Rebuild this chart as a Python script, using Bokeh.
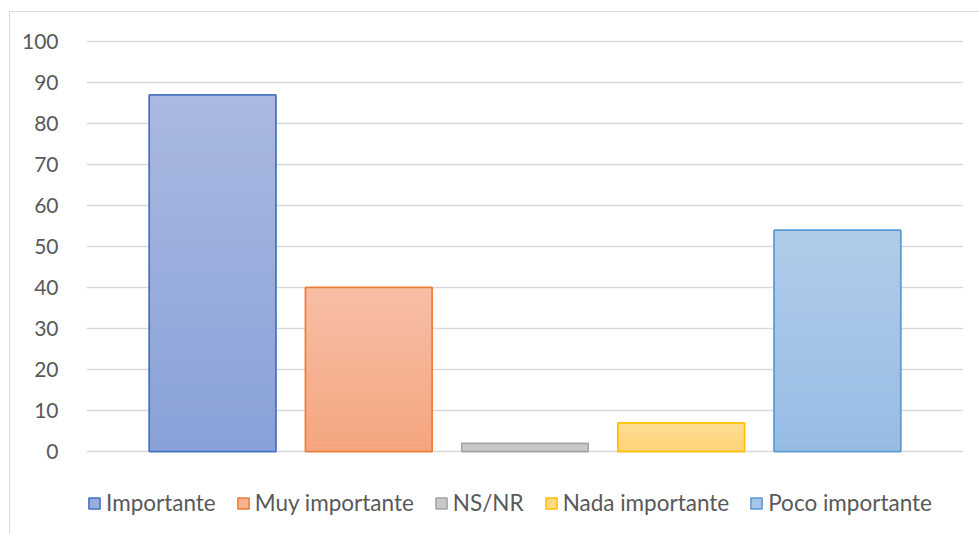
import numpy as np
from bokeh.plotting import figure
from bokeh.models import Range1d, Legend, LegendItem, FixedTicker
from bokeh.embed import file_html
from bokeh.resources import INLINE

categories = ["Importante", "Muy importante", "NS/NR", "Nada importante", "Poco importante"]
values = [87, 40, 2, 7, 54]
y_ticks = [0, 10, 20, 30, 40, 50, 60, 70, 80, 90, 100]
line_colors = ["#4472C4", "#ED7D31", "#A5A5A5", "#FFC000", "#5B9BD5"]
top_colors = ["#AAB9E1", "#F7BFA6", "#CFCFCF", "#FFDE97", "#B1CCEA"]
bottom_colors = ["#89A1D8", "#F5A580", "#C3C3C3", "#FFD275", "#96BCE5"]

FONT = "Lato"
TEXT = "#595959"


def hex2rgb(h):
    h = h.lstrip("#")
    return np.array([int(h[i:i + 2], 16) for i in (0, 2, 4)], dtype=float)


def rgb2hex(c):
    return "#%02X%02X%02X" % tuple(int(round(v)) for v in c)


p = figure(frame_width=877, frame_height=497, output_backend="svg", toolbar_location=None,
           x_range=Range1d(-0.807, 4.807), y_range=Range1d(-20.22, 101),
           min_border_left=76, min_border_right=16, min_border_top=25, min_border_bottom=0)
p.styles = {"border-left": "1px solid #D9D9D9", "border-top": "1px solid #D9D9D9",
            "margin-left": "9px", "margin-top": "11px"}
p.outline_line_color = None
p.background_fill_color = "white"
p.border_fill_color = "white"

xs = np.arange(len(categories))
bar_w = 0.81
N = 40
legend_items = []
for i, (cat, v) in enumerate(zip(categories, values)):
    base = p.vbar(x=[xs[i]], top=[v], width=bar_w,
                  fill_color=rgb2hex((hex2rgb(top_colors[i]) + hex2rgb(bottom_colors[i])) / 2),
                  line_color=line_colors[i], line_width=1.5)
    legend_items.append(LegendItem(label=cat, renderers=[base]))
    c0, c1 = hex2rgb(bottom_colors[i]), hex2rgb(top_colors[i])
    fr = np.arange(N) / N
    bots = v * fr
    tops = v * (fr + 1.0 / N)
    cols = [rgb2hex(c0 + (c1 - c0) * (f + 0.5 / N)) for f in fr]
    p.vbar(x=[xs[i]] * N, bottom=bots, top=tops, width=bar_w, fill_color=cols, line_color=None)
    p.vbar(x=[xs[i]], top=[v], width=bar_w, fill_color=None, line_color=line_colors[i], line_width=1.5)

p.xaxis.visible = False
p.xgrid.visible = False
p.yaxis.ticker = FixedTicker(ticks=y_ticks)
p.yaxis.axis_line_color = None
p.yaxis.major_tick_line_color = None
p.yaxis.minor_tick_line_color = None
p.yaxis.major_label_standoff = 22
p.yaxis.major_label_text_font = FONT
p.yaxis.major_label_text_font_size = "21px"
p.yaxis.major_label_text_color = TEXT
p.ygrid.grid_line_color = "#D9D9D9"
p.ygrid.grid_line_width = 1.5
p.ygrid.ticker = FixedTicker(ticks=y_ticks)

legend = Legend(items=legend_items, orientation="horizontal", location=(1, 18),
                label_text_font=FONT, label_text_font_size="22.5px", label_text_color=TEXT,
                glyph_width=14, glyph_height=14, label_standoff=5, spacing=20,
                border_line_color=None, background_fill_alpha=0, padding=0, margin=0)
p.add_layout(legend, "center")

open("out.html", "w").write(file_html(p, INLINE))
